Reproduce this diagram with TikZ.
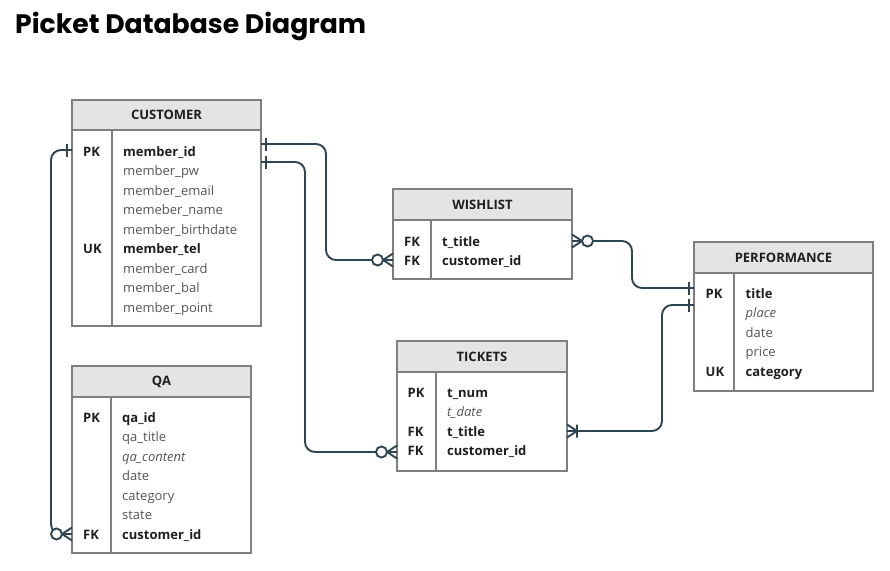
\documentclass[tikz,border=0pt]{standalone}
\usepackage{fontspec}
\setmainfont{Open Sans}
\newfontfamily\titlefont{Poppins}
\definecolor{bordc}{HTML}{7F7F7F}
\definecolor{hdrc}{HTML}{E4E4E4}
\definecolor{dark}{HTML}{1E1E1E}
\definecolor{soft}{HTML}{555555}
\definecolor{linkc}{HTML}{2E4653}
\tikzset{
  tbl/.style={draw=bordc, line width=1.3pt, inner sep=0pt, outer sep=0pt, anchor=north west},
  hdrbox/.style={tbl, fill=hdrc},
  hdrtxt/.style={font=\fontsize{13}{15}\selectfont\bfseries, text=dark, inner sep=0pt},
  divl/.style={draw=bordc, line width=1.3pt},
  keyt/.style={anchor=base west, inner sep=0pt, font=\fontsize{13}{15}\selectfont\bfseries, text=dark},
  fb/.style={anchor=base west, inner sep=0pt, font=\fontsize{13}{15}\selectfont\bfseries, text=dark},
  fr/.style={anchor=base west, inner sep=0pt, font=\fontsize{13}{15}\selectfont, text=soft},
  fi/.style={anchor=base west, inner sep=0pt, font=\fontsize{13}{15}\selectfont\itshape, text=soft},
  conn/.style={draw=linkc, line width=1.9pt, rounded corners=10pt},
  mk/.style={draw=linkc, line width=1.9pt},
  zmany/.pic={\draw[mk] (0,-6.5) -- (10,0) (0,0) -- (10,0) (0,6.5) -- (10,0);
              \draw[mk, fill=white] (15.5,0) circle (5.5);},
  omany/.pic={\draw[mk] (0,-6.5) -- (10,0) (0,0) -- (10,0) (0,6.5) -- (10,0) (10,-6.5) -- (10,6.5);},
  onebar/.pic={\draw[mk] (5,-6.5) -- (5,6.5);}
}
\begin{document}
\begin{tikzpicture}[x=1pt, y=-1pt]
\useasboundingbox[fill=white] (0,0) rectangle (890,570);

% title
\node[anchor=base west, inner sep=0pt] (title) at (15,33)
  {\resizebox{351pt}{!}{\titlefont\bfseries Picket Database Diagram}};

% ---------- CUSTOMER ----------
\node[tbl, minimum width=189pt, minimum height=226pt] (cust) at (72,100) {};
\node[hdrbox, minimum width=189pt, minimum height=30pt] (custh) at (72,100) {};
\node[hdrtxt] (custt) at (custh.center) {CUSTOMER};
\draw[divl] (112,130) -- (112,326);
\node[keyt] (ck1) at (83,156) {PK};
\node[keyt] (ck2) at (83,253.5) {UK};
\node[fb] (c1) at (123,156) {member\_id};
\node[fr] (c2) at (123,175.5) {member\_pw};
\node[fr] (c3) at (123,195) {member\_email};
\node[fr] (c4) at (123,214.5) {memeber\_name};
\node[fr] (c5) at (123,234) {member\_birthdate};
\node[fb] (c6) at (123,253.5) {member\_tel};
\node[fr] (c7) at (123,273) {member\_card};
\node[fr] (c8) at (123,292.5) {member\_bal};
\node[fr] (c9) at (123,312) {member\_point};

% ---------- QA ----------
\node[tbl, minimum width=179pt, minimum height=187pt] (qa) at (72,366) {};
\node[hdrbox, minimum width=179pt, minimum height=31pt] (qah) at (72,366) {};
\node[hdrtxt] (qat) at (qah.center) {QA};
\draw[divl] (111,397) -- (111,553);
\node[keyt] (qk1) at (83,422.3) {PK};
\node[keyt] (qk2) at (83,539.3) {FK};
\node[fb] (q1) at (122,422.3) {qa\_id};
\node[fr] (q2) at (122,441.8) {qa\_title};
\node[fi] (q3) at (122,461.3) {qa\_content};
\node[fr] (q4) at (122,480.8) {date};
\node[fr] (q5) at (122,500.3) {category};
\node[fr] (q6) at (122,519.8) {state};
\node[fb] (q7) at (122,539.3) {customer\_id};

% ---------- WISHLIST ----------
\node[tbl, minimum width=179pt, minimum height=90pt] (wish) at (393,189) {};
\node[hdrbox, minimum width=179pt, minimum height=31pt] (wishh) at (393,189) {};
\node[hdrtxt] (wisht) at (wishh.center) {WISHLIST};
\draw[divl] (431,220) -- (431,279);
\node[keyt] (wk1) at (404,246) {FK};
\node[keyt] (wk2) at (404,265.5) {FK};
\node[fb] (w1) at (442,246) {t\_title};
\node[fb] (w2) at (442,265.5) {customer\_id};

% ---------- TICKETS ----------
\node[tbl, minimum width=170pt, minimum height=130pt] (tick) at (397,341) {};
\node[hdrbox, minimum width=170pt, minimum height=31pt] (tickh) at (397,341) {};
\node[hdrtxt] (tickt) at (tickh.center) {TICKETS};
\draw[divl] (436,372) -- (436,471);
\node[keyt] (tk1) at (407.5,397.3) {PK};
\node[keyt] (tk2) at (407.5,436.3) {FK};
\node[keyt] (tk3) at (407.5,455.8) {FK};
\node[fb] (t1) at (447,397.3) {t\_num};
\node[fi] (t2) at (447,416.8) {t\_date};
\node[fb] (t3) at (447,436.3) {t\_title};
\node[fb] (t4) at (447,455.8) {customer\_id};

% ---------- PERFORMANCE ----------
\node[tbl, minimum width=179pt, minimum height=149pt] (perf) at (694,242) {};
\node[hdrbox, minimum width=179pt, minimum height=31pt] (perfh) at (694,242) {};
\node[hdrtxt] (perft) at (perfh.center) {PERFORMANCE};
\draw[divl] (734,273) -- (734,391);
\node[keyt] (pk1) at (705.5,298.3) {PK};
\node[keyt] (pk2) at (705.5,376.3) {UK};
\node[fb] (p1) at (745.5,298.3) {title};
\node[fi] (p2) at (745.5,317.8) {place};
\node[fr] (p3) at (745.5,337.3) {date};
\node[fr] (p4) at (745.5,356.8) {price};
\node[fb] (p5) at (745.5,376.3) {category};

% ---------- connector end points ----------
\coordinate (cA) at (cust.east |- 0,144);
\coordinate (cB) at (cust.east |- 0,162);
\coordinate (cC) at (cust.west |- 0,150);
\coordinate (wA) at (wish.west |- 0,260);
\coordinate (wD) at (wish.east |- 0,241);
\coordinate (tB) at (tick.west |- 0,452);
\coordinate (tE) at (tick.east |- 0,431);
\coordinate (qC) at (qa.west |- 0,534);
\coordinate (pD) at (perf.west |- 0,288);
\coordinate (pE) at (perf.west |- 0,305);

% ---------- connectors ----------
\draw[conn] (cA) -| (326,200) |- (wA);
\draw[conn] (cB) -| (305,300) |- (tB);
\draw[conn] (cC) -| (51,300) |- (qC);
\draw[conn] (wD) -| (632,260) |- (pD);
\draw[conn] (tE) -| (662,380) |- (pE);

% ---------- markers ----------
\pic at (cA) {onebar};
\pic at (cB) {onebar};
\pic[rotate=180] at (cC) {onebar};
\pic[rotate=180] at (pD) {onebar};
\pic[rotate=180] at (pE) {onebar};
\pic[rotate=180] at (wA) {zmany};
\pic[rotate=180] at (tB) {zmany};
\pic[rotate=180] at (qC) {zmany};
\pic at (wD) {zmany};
\pic at (tE) {omany};
\end{tikzpicture}
\end{document}
